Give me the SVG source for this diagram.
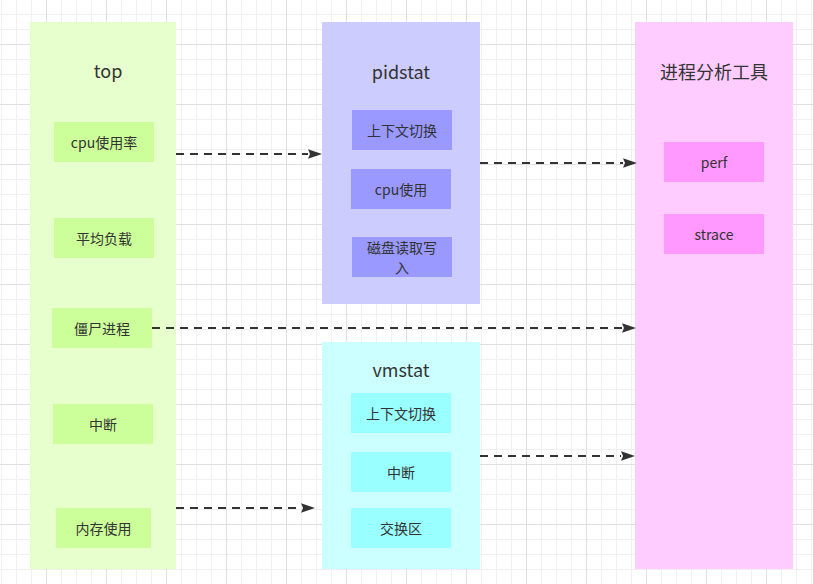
<svg xmlns="http://www.w3.org/2000/svg" width="813" height="584" viewBox="0 0 813 584">
<defs>
<pattern id="grid" x="46" y="44" width="60" height="60" patternUnits="userSpaceOnUse">
<rect x="15" y="0" width="1" height="60" fill="#f0f0f0"/>
<rect x="30" y="0" width="1" height="60" fill="#f0f0f0"/>
<rect x="45" y="0" width="1" height="60" fill="#f0f0f0"/>
<rect x="0" y="15" width="60" height="1" fill="#f0f0f0"/>
<rect x="0" y="30" width="60" height="1" fill="#f0f0f0"/>
<rect x="0" y="45" width="60" height="1" fill="#f0f0f0"/>
<rect x="0" y="0" width="1" height="60" fill="#e0e0e0"/>
<rect x="0" y="0" width="60" height="1" fill="#e0e0e0"/>
</pattern>
<marker id="arr" viewBox="0 0 14 10" refX="0" refY="5" markerWidth="14" markerHeight="10" markerUnits="userSpaceOnUse" orient="auto">
<path d="M0,0.3 L14,5 L0,9.7 L2,5 Z" fill="#333333"/>
</marker>
</defs>
<style>
text{font-family:"Noto Sans CJK SC","Liberation Sans",sans-serif;fill:#333333;text-anchor:middle;dominant-baseline:central}
.t{font-size:18px}
.i{font-size:14px}
.edge{fill:none;stroke:#333333;stroke-width:2;stroke-dasharray:8 6;marker-end:url(#arr)}
</style>
<rect width="813" height="584" fill="#ffffff"/>
<rect width="813" height="584" fill="url(#grid)"/>

<g id="top">
<rect x="30" y="22" width="146" height="547" fill="#e6ffcc"/>
<text class="t" x="108" y="70">top</text>
</g>
<g id="top-cpu"><rect x="54" y="122" width="100" height="40" fill="#ccff99"/><text class="i" x="104" y="142">cpu使用率</text></g>
<g id="top-load"><rect x="54" y="218" width="100" height="40" fill="#ccff99"/><text class="i" x="104" y="238">平均负载</text></g>
<g id="top-zombie"><rect x="52" y="308" width="100" height="40" fill="#ccff99"/><text class="i" x="102" y="328">僵尸进程</text></g>
<g id="top-irq"><rect x="53" y="404" width="100" height="40" fill="#ccff99"/><text class="i" x="103" y="424">中断</text></g>
<g id="top-mem"><rect x="56" y="508" width="95" height="40" fill="#ccff99"/><text class="i" x="103.5" y="528">内存使用</text></g>

<g id="pidstat">
<rect x="322" y="22" width="158" height="282" fill="#ccccff"/>
<text class="t" x="401" y="71">pidstat</text>
</g>
<g id="pid-cs"><rect x="352" y="110" width="100" height="40" fill="#9999ff"/><text class="i" x="402" y="130">上下文切换</text></g>
<g id="pid-cpu"><rect x="351" y="169" width="100" height="40" fill="#9999ff"/><text class="i" x="401" y="189">cpu使用</text></g>
<g id="pid-disk"><rect x="352" y="237" width="100" height="40" fill="#9999ff"/><text class="i" x="402" y="247">磁盘读取写</text><text class="i" x="402" y="267">入</text></g>

<g id="vmstat">
<rect x="322" y="342" width="158" height="227" fill="#ccffff"/>
<text class="t" x="401" y="369">vmstat</text>
</g>
<g id="vm-cs"><rect x="351" y="393" width="100" height="40" fill="#99ffff"/><text class="i" x="401" y="413">上下文切换</text></g>
<g id="vm-irq"><rect x="351" y="452" width="100" height="40" fill="#99ffff"/><text class="i" x="401" y="472">中断</text></g>
<g id="vm-swap"><rect x="351" y="508" width="100" height="40" fill="#99ffff"/><text class="i" x="401" y="528">交换区</text></g>

<g id="tools">
<rect x="635" y="22" width="158" height="547" fill="#ffccff"/>
<text class="t" x="714" y="71">进程分析工具</text>
</g>
<g id="perf"><rect x="664" y="142" width="100" height="40" fill="#ff99ff"/><text class="i" x="714" y="162">perf</text></g>
<g id="strace"><rect x="664" y="214" width="100" height="40" fill="#ff99ff"/><text class="i" x="714" y="234">strace</text></g>

<g id="connectors">
<path class="edge" d="M176,154 H308"/>
<path class="edge" d="M480,163 H623"/>
<path class="edge" d="M152,328 H622"/>
<path class="edge" d="M480,456 H621"/>
<path class="edge" d="M176,508 H301"/>
</g>
</svg>
